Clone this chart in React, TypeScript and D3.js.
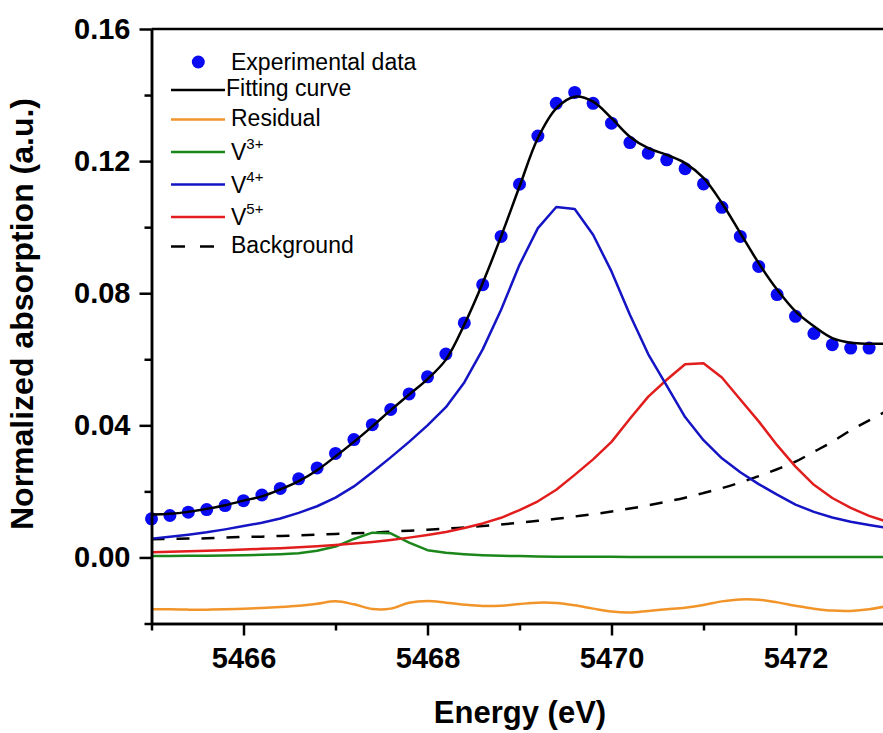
import React, { useEffect, useRef } from 'react';
import * as d3 from 'd3';

// energy grid (eV)
const energy = [
  5465.0, 5465.2, 5465.4, 5465.6, 5465.8, 5466.0, 5466.2, 5466.4, 5466.6, 5466.8,
  5467.0, 5467.2, 5467.4, 5467.6, 5467.8, 5468.0, 5468.2, 5468.4, 5468.6, 5468.8,
  5469.0, 5469.2, 5469.4, 5469.6, 5469.8, 5470.0, 5470.2, 5470.4, 5470.6, 5470.8,
  5471.0, 5471.2, 5471.4, 5471.6, 5471.8, 5472.0, 5472.2, 5472.4, 5472.6, 5472.8,
  5473.0,
];

const experimental = [
  0.0117, 0.0127, 0.0137, 0.0145, 0.0157, 0.0172, 0.0189, 0.0209, 0.0238, 0.0271,
  0.0315, 0.0357, 0.0402, 0.0448, 0.0495, 0.0547, 0.0616, 0.071, 0.0826, 0.0972,
  0.113, 0.1276, 0.1375, 0.1408, 0.1375, 0.1315, 0.1256, 0.1224, 0.1204, 0.1177,
  0.1131, 0.106, 0.0972, 0.0881, 0.0796, 0.073, 0.0678, 0.0644, 0.0634, 0.0634,
];

const fitting = [
  0.013, 0.0132, 0.0138, 0.0147, 0.0158, 0.0172, 0.0185, 0.0206, 0.0231, 0.0264,
  0.0306, 0.035, 0.0397, 0.0446, 0.0493, 0.054, 0.0599, 0.0705, 0.0831, 0.0972,
  0.1123, 0.127, 0.136, 0.1395, 0.138, 0.133, 0.1274, 0.1239, 0.1219, 0.1194,
  0.1149, 0.1073, 0.0982, 0.0891, 0.0811, 0.0745, 0.07, 0.0664, 0.065, 0.0647,
  0.0647,
];

const residual = [
  -0.0157, -0.0157, -0.0158, -0.0158, -0.0157, -0.0155, -0.0153, -0.015, -0.0146, -0.014,
  -0.0133, -0.0142, -0.0156, -0.0155, -0.0137, -0.0132, -0.0137, -0.0143, -0.0147, -0.0146,
  -0.0141, -0.0137, -0.0138, -0.0145, -0.0155, -0.0164, -0.0167, -0.0162, -0.0157, -0.0152,
  -0.0144, -0.0133, -0.0127, -0.0128, -0.0136, -0.0146, -0.0155, -0.0161, -0.0162, -0.0157,
  -0.0147,
];

const v3 = [
  0.0004, 0.0004, 0.0005, 0.0005, 0.0006, 0.0007, 0.0008, 0.001, 0.0013, 0.002,
  0.0033, 0.0056, 0.0075, 0.0073, 0.0045, 0.0022, 0.0014, 0.001, 0.0007, 0.0005,
  0.0004, 0.0003, 0.0002, 0.0002, 0.0002, 0.0002, 0.0001, 0.0001, 0.0001, 0.0001,
  0.0001, 0.0001, 0.0001, 0.0001, 0.0001, 0.0001, 0.0001, 0.0001, 0.0001, 0.0001,
  0.0001,
];

const v4 = [
  0.0057, 0.0063, 0.0069, 0.0076, 0.0085, 0.0095, 0.0105, 0.0118, 0.0135, 0.0155,
  0.0181, 0.0215, 0.0258, 0.0303, 0.035, 0.04, 0.0455, 0.053, 0.063, 0.075,
  0.0886, 0.0997, 0.1061, 0.1055, 0.0977, 0.0866, 0.0735, 0.0615, 0.052, 0.0425,
  0.0355, 0.03, 0.0258, 0.0222, 0.019, 0.016, 0.0138, 0.0121, 0.0108, 0.0098,
  0.0089,
];

const v5 = [
  0.0016, 0.0017, 0.0019, 0.002, 0.0022, 0.0024, 0.0026, 0.0028, 0.0031, 0.0034,
  0.0038, 0.0042, 0.0047, 0.0053, 0.006, 0.0068, 0.0077, 0.0089, 0.0103, 0.012,
  0.0143, 0.017, 0.0205, 0.025, 0.0297, 0.035, 0.042, 0.0487, 0.0538, 0.0585,
  0.0588, 0.0545, 0.0478, 0.0412, 0.034, 0.0275, 0.022, 0.018, 0.015, 0.0126,
  0.0108,
];

const background = [
  0.0055, 0.0056, 0.0057, 0.0058, 0.006, 0.0062, 0.0063, 0.0065, 0.0067, 0.0069,
  0.0071, 0.0073, 0.0075, 0.0078, 0.0081, 0.0084, 0.0087, 0.0091, 0.0095, 0.01,
  0.0105, 0.0111, 0.0117, 0.0124, 0.0131, 0.0139, 0.0148, 0.0158, 0.0169, 0.0181,
  0.0195, 0.021, 0.0227, 0.0246, 0.0267, 0.029, 0.032, 0.035, 0.0385, 0.0415,
  0.0445,
];

const xMajorTicks = [5466, 5468, 5470, 5472];
const xMinorTicks = [5465, 5467, 5469, 5471, 5473];
const yMajorTicks = [0, 0.04, 0.08, 0.12, 0.16];
const yMinorTicks = [-0.02, 0.02, 0.06, 0.1, 0.14];

const FONT = "'Liberation Sans', Arial, sans-serif";

const App = () => {
  const svgRef = useRef(null);

  useEffect(() => {
    const width = 883;
    const height = 733;
    const svg = d3.select(svgRef.current);
    svg.selectAll('*').remove();
    svg.attr('width', width).attr('height', height);

    const x = d3.scaleLinear().domain([5465, 5473]).range([151.5, 887.5]);
    const y = d3.scaleLinear().domain([-0.02, 0.16]).range([623.5, 29]);

    // experimental points first, lines drawn over them
    svg
      .append('g')
      .selectAll('circle')
      .data(experimental)
      .enter()
      .append('circle')
      .attr('cx', (d, i) => x(energy[i]))
      .attr('cy', (d) => y(d))
      .attr('r', 6.5)
      .attr('fill', '#0a0af2');

    const straight = d3
      .line()
      .x((d, i) => x(energy[i]))
      .y((d) => y(d));
    const smooth = d3
      .line()
      .x((d, i) => x(energy[i]))
      .y((d) => y(d))
      .curve(d3.curveCatmullRom);

    const curves = [
      { data: background, color: '#000', dash: '13,12', gen: smooth },
      { data: v3, color: '#1b871b', dash: null, gen: straight },
      { data: v5, color: '#e11d1d', dash: null, gen: straight },
      { data: v4, color: '#1414c4', dash: null, gen: straight },
      { data: residual, color: '#f1952b', dash: null, gen: smooth },
      { data: fitting, color: '#000', dash: null, gen: smooth },
    ];
    curves.forEach((c) => {
      svg
        .append('path')
        .datum(c.data)
        .attr('fill', 'none')
        .attr('stroke', c.color)
        .attr('stroke-width', 2.5)
        .attr('stroke-dasharray', c.dash)
        .attr('stroke-linejoin', 'round')
        .attr('d', c.gen);
    });

    // axes
    const styleAxis = (g) => {
      g.selectAll('path, line').attr('stroke', '#000').attr('stroke-width', 2.5);
      g.selectAll('text')
        .attr('fill', '#000')
        .style('font-family', FONT)
        .style('font-size', '29px')
        .style('font-weight', 'bold');
    };

    svg
      .append('g')
      .attr('transform', `translate(0, ${y(-0.02)})`)
      .call(d3.axisBottom(x).tickValues(xMinorTicks).tickSize(7).tickSizeOuter(0).tickFormat(() => ''))
      .call(styleAxis);
    svg
      .append('g')
      .attr('transform', `translate(0, ${y(-0.02)})`)
      .call(
        d3
          .axisBottom(x)
          .tickValues(xMajorTicks)
          .tickSize(12)
          .tickSizeOuter(0)
          .tickPadding(12)
          .tickFormat(d3.format('d'))
      )
      .call(styleAxis);

    svg
      .append('g')
      .attr('transform', `translate(${x(5465)}, 0)`)
      .call(d3.axisLeft(y).tickValues(yMinorTicks).tickSize(7).tickSizeOuter(0).tickFormat(() => ''))
      .call(styleAxis);
    svg
      .append('g')
      .attr('transform', `translate(${x(5465)}, 0)`)
      .call(
        d3
          .axisLeft(y)
          .tickValues(yMajorTicks)
          .tickSize(12)
          .tickSizeOuter(0)
          .tickPadding(9)
          .tickFormat(d3.format('.2f'))
      )
      .call(styleAxis);

    // top and right frame
    svg
      .append('line')
      .attr('x1', x(5465))
      .attr('x2', x(5473))
      .attr('y1', y(0.16))
      .attr('y2', y(0.16))
      .attr('stroke', '#000')
      .attr('stroke-width', 2.5);
    svg
      .append('line')
      .attr('x1', x(5473))
      .attr('x2', x(5473))
      .attr('y1', y(0.16))
      .attr('y2', y(-0.02))
      .attr('stroke', '#000')
      .attr('stroke-width', 2.5);

    // axis titles
    svg
      .append('text')
      .attr('x', 520)
      .attr('y', 723)
      .attr('text-anchor', 'middle')
      .style('font-family', FONT)
      .style('font-size', '31px')
      .style('font-weight', 'bold')
      .text('Energy (eV)');
    svg
      .append('text')
      .attr('transform', 'translate(33, 314) rotate(-90)')
      .attr('text-anchor', 'middle')
      .style('font-family', FONT)
      .style('font-size', '32px')
      .style('font-weight', 'bold')
      .text('Normalized absorption (a.u.)');

    // legend
    const legend = svg.append('g').style('font-family', FONT).style('font-size', '23px');
    legend.append('circle').attr('cx', 198.3).attr('cy', 62).attr('r', 6.5).attr('fill', '#0a0af2');
    legend.append('text').attr('x', 231).attr('y', 70).text('Experimental data');

    const rows = [
      { y: 90, color: '#000', label: 'Fitting curve', sup: null, dash: null },
      { y: 119.5, color: '#f1952b', label: 'Residual', sup: null, dash: null },
      { y: 152, color: '#1b871b', label: 'V', sup: '3+', dash: null },
      { y: 184.5, color: '#1414c4', label: 'V', sup: '4+', dash: null },
      { y: 217, color: '#e11d1d', label: 'V', sup: '5+', dash: null },
      { y: 246.5, color: '#000', label: 'Background', sup: null, dash: '14,15' },
    ];
    rows.forEach((r) => {
      legend
        .append('line')
        .attr('x1', 171)
        .attr('x2', 225)
        .attr('y1', r.y)
        .attr('y2', r.y)
        .attr('stroke', r.color)
        .attr('stroke-width', 2.5)
        .attr('stroke-dasharray', r.dash);
      const t = legend
        .append('text')
        .attr('x', r.label === 'Fitting curve' ? 226 : 231)
        .attr('y', r.sup ? r.y + 8 : r.y + 6)
        .text(r.label);
      if (r.sup) {
        t.append('tspan').attr('dy', -11).style('font-size', '15px').text(r.sup);
      }
    });
  }, []);

  return (
    <div style={{ position: 'absolute', left: 0, top: 0 }}>
      <svg ref={svgRef} style={{ display: 'block' }} />
    </div>
  );
};

export default App;
